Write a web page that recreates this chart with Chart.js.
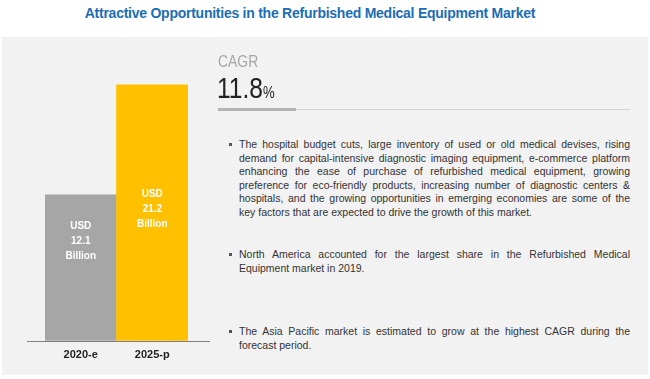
<!DOCTYPE html>
<html>
<head>
<meta charset="utf-8">
<script src="https://cdn.jsdelivr.net/npm/chart.js@4"></script>
<style>
  body { margin: 0; background: #fff; }
  #wrap { position: relative; width: 650px; height: 379px; overflow: hidden; font-family: 'Liberation Sans', Arial, sans-serif; }
  #title { position: absolute; left: 0; width: 620px; top: 5px; text-align: center; color: #1c6db5; font: bold 14px 'Liberation Sans', sans-serif; letter-spacing: -0.25px; }
  #panel { position: absolute; left: 2px; top: 37px; width: 646px; height: 338px; background: #f2f2f2; }
  #barChart { position: absolute; left: 0; top: 37px; }
  #cagrLabel { position: absolute; left: 218px; top: 52px; font: 17px/20px 'Liberation Sans', sans-serif; color: #a6a6a6; transform: scaleX(0.82); transform-origin: left top; }
  #cagrValue { position: absolute; left: 217px; top: 71px; font: 30px/34px 'Liberation Sans', sans-serif; color: #222; transform: scaleX(0.82); transform-origin: left top; }
  #cagrValue span { font-size: 16px; }
  #ruleThick { position: absolute; left: 218px; top: 108px; width: 78px; height: 3px; background: #b4b4b4; }
  #ruleThin { position: absolute; left: 296px; top: 109px; width: 334px; height: 1px; background: #d4d4d4; }
  .para { position: absolute; left: 239px; width: 391px; font-size: 10.5px; line-height: 13.5px; color: #333; }
  .para div { text-align: justify; text-align-last: justify; white-space: nowrap; }
  .para div.last { text-align-last: left; }
  .bullet { position: absolute; left: -10px; top: 5px; width: 3px; height: 3px; background: #555; }
</style>
</head>
<body>
<div id="wrap">
  <div id="title">Attractive Opportunities in the Refurbished Medical Equipment Market</div>
  <div id="panel"></div>
  <canvas id="barChart" width="220" height="338"></canvas>
  <div id="cagrLabel">CAGR</div>
  <div id="cagrValue">11.8<span>%</span></div>
  <div id="ruleThick"></div>
  <div id="ruleThin"></div>
  <div class="para" style="top:138px">
    <span class="bullet"></span>
    <div>The hospital budget cuts, large inventory of used or old medical devises, rising</div>
    <div>demand for capital-intensive diagnostic imaging equipment, e-commerce platform</div>
    <div>enhancing the ease of purchase of refurbished medical equipment, growing</div>
    <div>preference for eco-friendly products, increasing number of diagnostic centers &amp;</div>
    <div>hospitals, and the growing opportunities in emerging economies are some of the</div>
    <div class="last">key factors that are expected to drive the growth of this market.</div>
  </div>
  <div class="para" style="top:248px">
    <span class="bullet"></span>
    <div>North America accounted for the largest share in the Refurbished Medical</div>
    <div class="last">Equipment market in 2019.</div>
  </div>
  <div class="para" style="top:325px">
    <span class="bullet"></span>
    <div>The Asia Pacific market is estimated to grow at the highest CAGR during the</div>
    <div class="last">forecast period.</div>
  </div>
</div>
<script>
const categories = ['2020-e', '2025-p'];
const marketSize = [12.1, 21.2];   // USD billion
const barColors = ['#a6a6a6', '#ffc000'];

// baseline runs a bit past the bars on both sides
const baseline = {
    id: 'baseline',
    afterDatasetsDraw(chart) {
        const ctx = chart.ctx;
        const y = Math.round(chart.scales.y.getPixelForValue(0)) + 0.5;
        ctx.save();
        ctx.strokeStyle = '#808080';
        ctx.lineWidth = 1;
        ctx.beginPath();
        ctx.moveTo(chart.chartArea.left - 18, y);
        ctx.lineTo(chart.chartArea.right + 22, y);
        ctx.stroke();
        ctx.restore();
    }
};

// "USD / 12.1 / Billion" inside each bar
const barText = {
    id: 'barText',
    afterDatasetsDraw(chart) {
        const ctx = chart.ctx;
        const offsets = [32, 109];
        ctx.save();
        ctx.fillStyle = '#fff';
        ctx.font = 'bold 10px "Liberation Sans", sans-serif';
        ctx.textAlign = 'center';
        ctx.textBaseline = 'middle';
        chart.getDatasetMeta(0).data.forEach((bar, i) => {
            const lines = ['USD', marketSize[i].toFixed(1), 'Billion'];
            lines.forEach((t, k) => {
                ctx.fillText(t, bar.x, bar.y + offsets[i] + k * 15);
            });
        });
        ctx.restore();
    }
};

new Chart(document.querySelector('#barChart'), {
    type: 'bar',
    data: {
        labels: categories,
        datasets: [{
            data: marketSize,
            backgroundColor: barColors,
            barPercentage: 1,
            categoryPercentage: 1
        }]
    },
    options: {
        responsive: false,
        animation: false,
        layout: { padding: { left: 45, right: 32, top: 2, bottom: 5 } },
        plugins: {
            legend: { display: false },
            tooltip: { enabled: false }
        },
        scales: {
            x: {
                grid: { display: false, drawTicks: false },
                border: { display: false },
                ticks: {
                    color: '#222',
                    padding: 8,
                    font: { family: 'Liberation Sans', weight: 'bold', size: 11 }
                }
            },
            y: { display: false, min: 0, max: 25 }
        }
    },
    plugins: [baseline, barText]
});
</script>
</body>
</html>
